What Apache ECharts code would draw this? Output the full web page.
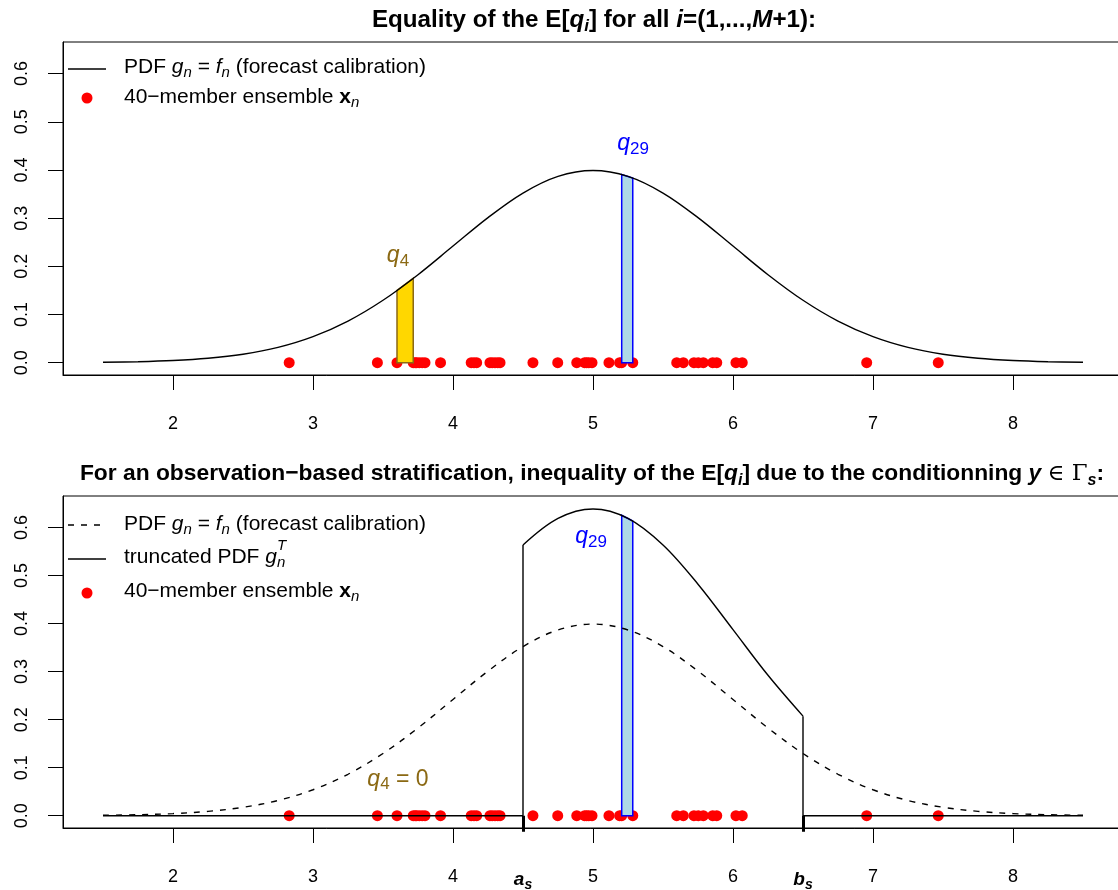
<!DOCTYPE html>
<html><head><meta charset="utf-8">
<script src="https://cdn.jsdelivr.net/npm/echarts@6/dist/echarts.min.js"></script>
<style>html,body{margin:0;padding:0;background:#fff}#c{width:1118px;height:890px}</style>
</head><body><div id="c"></div>
<script>
// ---------- data ----------
const xGrid = [1.5,1.75,2,2.25,2.5,2.75,3,3.25,3.5,3.75,4,4.25,4.5,4.75,5,5.25,5.5,5.75,6,6.25,6.5,6.75,7,7.25,7.5,7.75,8,8.25,8.5];
const pdfValues = [0.0009,0.0020,0.0044,0.0091,0.0175,0.0317,0.0540,0.0863,0.1295,0.1826,0.2420,0.3011,0.3521,0.3867,0.3989,0.3867,0.3521,0.3011,0.2420,0.1826,0.1295,0.0863,0.0540,0.0317,0.0175,0.0091,0.0044,0.0020,0.0009];
const truncX = [4.5,4.75,5,5.25,5.5,5.75,6,6.25,6.5];
const truncValues = [0.5636,0.6190,0.6386,0.6190,0.5636,0.4820,0.3874,0.2923,0.2073];
const truncBounds = [4.5, 6.5];
const ensemble = [2.83,3.46,3.60,3.716,3.73,3.74,3.759,3.78,3.80,3.911,4.13,4.15,4.169,4.264,4.28,4.30,4.32,4.336,4.571,4.748,4.884,4.94,4.955,4.97,4.993,5.114,5.19,5.205,
                  5.284,5.598,5.645,5.721,5.752,5.788,5.855,5.884,6.021,6.066,6.955,7.466];
const xTicks = [2,3,4,5,6,7,8];
const yTicks = [0,0.1,0.2,0.3,0.4,0.5,0.6];
const q4Bar = [3.60, 3.716, 0.150, 0.175];
const q29BarTop = [5.205, 5.284, 0.3907, 0.3832];
const q29BarBottom = [5.205, 5.284, 0.6254, 0.6134];

// ---------- styles ----------
const FF = 'Liberation Sans, Arial, Helvetica, sans-serif';
const GOLDTXT = '#8B6914';
const TICKFS = 18, LEGFS = 21, QFS = 23;
const XMIN = 1.2143, XMAX = 8.7714;

const chart = echarts.init(document.getElementById('c'), null, {renderer:'canvas'});

function xAxisCfg(gi){
  return {type:'value', gridIndex:gi, min:XMIN, max:XMAX, position:'bottom',
    axisLine:{show:true, onZero:false, lineStyle:{color:'#000', width:1}},
    axisTick:{show:true, inside:false, length:15, customValues:xTicks, lineStyle:{color:'#000', width:1}},
    axisLabel:{customValues:xTicks, margin:40, fontSize:TICKFS, color:'#000', fontFamily:FF},
    splitLine:{show:false}};
}
function yAxisCfg(gi){
  return {type:'value', gridIndex:gi, min:-0.0256, max:0.6656,
    axisLine:{show:true, onZero:false, lineStyle:{color:'#000', width:1}},
    axisTick:{show:true, inside:false, length:15, customValues:yTicks, lineStyle:{color:'#000', width:1}},
    axisLabel:{customValues:yTicks, rotate:90, margin:32, fontSize:TICKFS, color:'#000', fontFamily:FF,
      formatter:v=>v.toFixed(1)},
    splitLine:{show:false}};
}

const barStyles = {
  gold:{fill:'#FFD700', stroke:GOLDTXT},
  blue:{fill:'#ADD8E6', stroke:'#0000FF'}
};
function barSeries(xi, yi, data, styleKeys){
  return {type:'custom', xAxisIndex:xi, yAxisIndex:yi, z:4, data:data,
    renderItem:(params, api)=>{
      const x0=api.value(0), x1=api.value(1), y0=api.value(2), y1=api.value(3);
      const s = barStyles[styleKeys[params.dataIndex]];
      return {type:'polygon', shape:{points:[api.coord([x0,0]),api.coord([x0,y0]),api.coord([x1,y1]),api.coord([x1,0])]},
        style:{fill:s.fill, stroke:s.stroke, lineWidth:1.5}};
    }};
}
function labelSeries(xi, yi, pts, texts, colors){
  return {type:'custom', xAxisIndex:xi, yAxisIndex:yi, z:6, data:pts,
    renderItem:(params, api)=>{
      const p = api.coord([api.value(0), api.value(1)]);
      const c = colors[params.dataIndex];
      const rich = {
        q:{fontStyle:'italic', fontSize:QFS, fontFamily:FF, lineHeight:28, fill:c},
        n:{fontSize:QFS, fontFamily:FF, lineHeight:28, fill:c},
        sub:{fontSize:17, fontFamily:FF, lineHeight:17, verticalAlign:'bottom', fill:c}
      };
      return {type:'text', x:p[0], y:p[1],
        style:{text:texts[params.dataIndex], rich:rich, fill:c, fontSize:QFS, fontFamily:FF, lineHeight:28,
          align:'center', verticalAlign:'middle', textAlign:'center', textVerticalAlign:'middle'}};
    }};
}
function lineSeries(xi, yi, data, opts){
  return Object.assign({type:'line', xAxisIndex:xi, yAxisIndex:yi, data:data, symbol:'none', showSymbol:false,
    z:5, silent:true, lineStyle:{color:'#000', width:1.4}}, opts||{});
}
const pdfPts = xGrid.map((x,i)=>[x,pdfValues[i]]);
const truncPts = truncX.map((x,i)=>[x,truncValues[i]]);

function titleRich(fs){
  return {
    bi:{fontWeight:'bold', fontStyle:'italic', fontSize:fs, fontFamily:FF, lineHeight:30},
    bisub:{fontWeight:'bold', fontStyle:'italic', fontSize:Math.round(fs*0.7), fontFamily:FF, lineHeight:16, verticalAlign:'bottom'},
    sym:{fontWeight:'normal', fontSize:fs, fontFamily:'DejaVu Serif, serif', lineHeight:30}
  };
}
const legRich = {
  i:{fontStyle:'italic', fontSize:LEGFS, fontFamily:FF, lineHeight:26},
  isub:{fontStyle:'italic', fontSize:15, fontFamily:FF, lineHeight:14, verticalAlign:'bottom'},
  b:{fontWeight:'bold', fontSize:LEGFS, fontFamily:FF, lineHeight:26}
};
function txt(x, y, text, rich, extra){
  return {type:'text', x:x, y:y, silent:true, z:10,
    style:Object.assign({text:text, rich:rich, fill:'#000', fontSize:LEGFS, fontFamily:FF, lineHeight:26,
      align:'left', verticalAlign:'middle', textAlign:'left', textVerticalAlign:'middle'}, extra||{})};
}
function titleTxt(x, y, text, fs){
  return txt(x, y, text, titleRich(fs), {fontWeight:'bold', fontSize:fs, lineHeight:30, align:'center', textAlign:'center'});
}

const option = {
  backgroundColor:'#fff',
  animation:false,
  grid:[
    {left:63, top:42, width:1058, height:333, show:true, borderColor:'#000', borderWidth:1, containLabel:false, outerBoundsMode:'none'},
    {left:63, top:496, width:1058, height:332, show:true, borderColor:'#000', borderWidth:1, containLabel:false, outerBoundsMode:'none'}
  ],
  xAxis:[
    xAxisCfg(0),
    xAxisCfg(1),
    {type:'value', gridIndex:1, min:XMIN, max:XMAX, position:'bottom',
      axisLine:{show:false},
      axisTick:{show:true, inside:false, length:16, customValues:truncBounds, lineStyle:{color:'#000', width:3}},
      axisLabel:{customValues:truncBounds, margin:40, color:'#000', fontFamily:FF,
        formatter:v=>(v===truncBounds[0]?'{b|a}':'{b|b}')+'{s|s}',
        rich:{b:{fontWeight:'bold', fontStyle:'italic', fontSize:TICKFS+1, fontFamily:FF, lineHeight:24},
              s:{fontWeight:'bold', fontStyle:'italic', fontSize:14, fontFamily:FF, lineHeight:14, verticalAlign:'bottom'}}},
      splitLine:{show:false}}
  ],
  yAxis:[yAxisCfg(0), yAxisCfg(1)],
  series:[
    // top panel
    lineSeries(0,0,pdfPts,{smooth:0.35}),
    {type:'scatter', xAxisIndex:0, yAxisIndex:0, z:3, data:ensemble.map(x=>[x,0]), symbolSize:11,
      itemStyle:{color:'#FF0000', opacity:1}, silent:true},
    barSeries(0,0,[q4Bar,q29BarTop],['gold','blue']),
    labelSeries(0,0,[[3.607,0.222],[5.286,0.454]],['{q|q}{sub|4}','{q|q}{sub|29}'],[GOLDTXT,'#0000FF']),
    // bottom panel
    lineSeries(1,1,pdfPts,{smooth:0.35, lineStyle:{color:'#000', width:1.4, type:[6,7]}}),
    lineSeries(1,1,[[xGrid[0],0],[truncBounds[0],0],[truncBounds[0],truncValues[0]]]),
    lineSeries(1,1,truncPts,{smooth:0.35}),
    lineSeries(1,1,[[truncBounds[1],truncValues[truncValues.length-1]],[truncBounds[1],0],[xGrid[xGrid.length-1],0]]),
    {type:'scatter', xAxisIndex:1, yAxisIndex:1, z:3, data:ensemble.map(x=>[x,0]), symbolSize:11,
      itemStyle:{color:'#FF0000', opacity:1}, silent:true},
    barSeries(1,1,[q29BarBottom],['blue']),
    labelSeries(1,1,[[3.607,0.076],[4.986,0.581]],['{q|q}{sub|4}{n| = 0}','{q|q}{sub|29}'],[GOLDTXT,'#0000FF'])
  ],
  graphic:[
    titleTxt(594, 20, 'Equality of the E[{bi|q}{bisub|i}] for all {bi|i}=(1,...,{bi|M}+1):', 24.2),
    titleTxt(592, 474, 'For an observation\u2212based stratification, inequality of the E[{bi|q}{bisub|i}] due to the conditionning {bi|y} {sym|\u2208 \u0393}{bisub|s}:', 22.8),
    // top legend
    {type:'line', shape:{x1:68, y1:69, x2:106, y2:69}, style:{stroke:'#000', lineWidth:1.4}, silent:true},
    txt(124, 67, 'PDF {i|g}{isub|n} = {i|f}{isub|n} (forecast calibration)', legRich),
    {type:'circle', shape:{cx:87, cy:98, r:5.5}, style:{fill:'#FF0000'}, silent:true},
    txt(124, 97, '40\u2212member ensemble {b|x}{isub|n}', legRich),
    // bottom legend
    {type:'line', shape:{x1:68, y1:525, x2:106, y2:525}, style:{stroke:'#000', lineWidth:1.4, lineDash:[6,7]}, silent:true},
    txt(124, 524, 'PDF {i|g}{isub|n} = {i|f}{isub|n} (forecast calibration)', legRich),
    {type:'line', shape:{x1:68, y1:559, x2:106, y2:559}, style:{stroke:'#000', lineWidth:1.4}, silent:true},
    txt(124, 557, 'truncated PDF {i|g}{isub|n}', legRich),
    txt(277, 546, 'T', legRich, {fontStyle:'italic', fontSize:15, lineHeight:15}),
    {type:'circle', shape:{cx:87, cy:593, r:5.5}, style:{fill:'#FF0000'}, silent:true},
    txt(124, 591, '40\u2212member ensemble {b|x}{isub|n}', legRich)
  ]
};
chart.setOption(option);
</script>
</body></html>
